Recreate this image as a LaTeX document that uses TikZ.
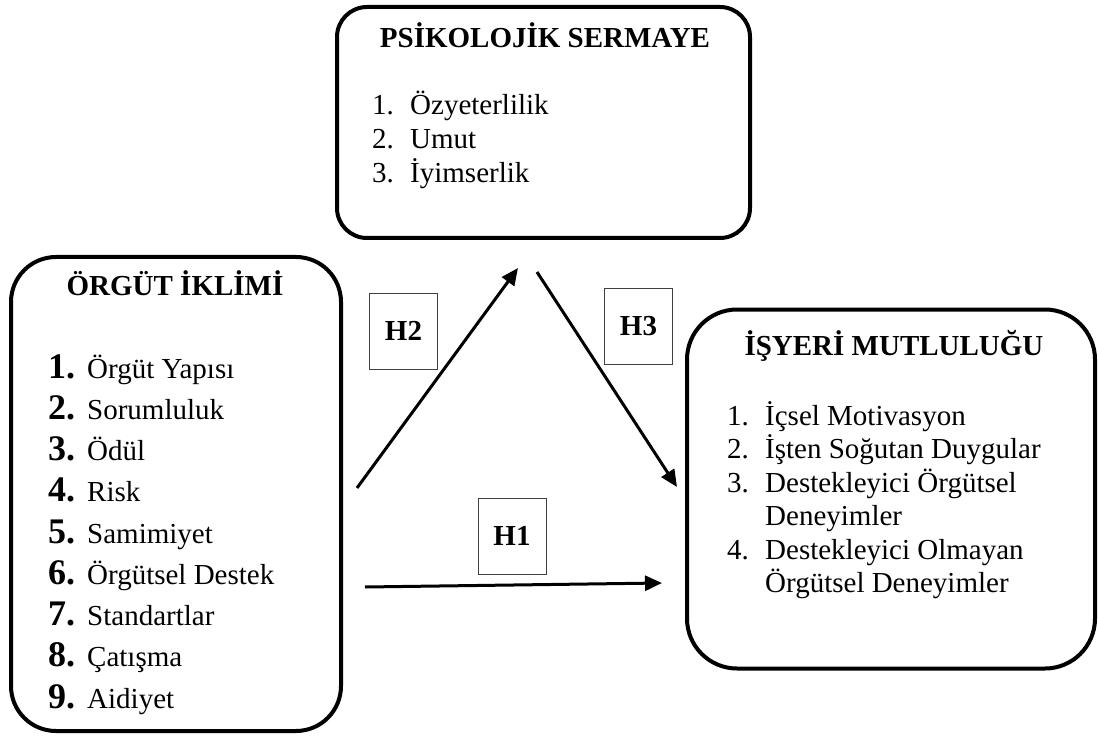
\documentclass[tikz,border=0pt]{standalone}
\usepackage{fontspec}
\setmainfont{Liberation Serif}
\usetikzlibrary{arrows.meta}

\begin{document}
\begin{tikzpicture}[x=1pt,y=1pt]
			\tikzstyle{every node}+=[inner sep=0pt]
			\tikzstyle{bigbox}=[draw=black, line width=4pt]
			\tikzstyle{hbox}=[draw=black!75, line width=1pt, minimum width=68pt, minimum height=76pt, font=\fontsize{29}{34}\selectfont\bfseries]
			\tikzstyle{title}=[anchor=base, font=\fontsize{29}{34}\selectfont\bfseries]
			\tikzstyle{item}=[anchor=base west, font=\fontsize{29}{34}\selectfont]
			\tikzstyle{bignum}=[anchor=base west, font=\fontsize{36}{40}\selectfont\bfseries]
			\tikzstyle{link}=[line width=3pt, -{Triangle[length=17pt,width=15pt]}]
			\useasboundingbox (0,0) rectangle (1098,-738);
			\node (iklim) [bigbox, rounded corners=45pt, minimum width=330pt, minimum height=474pt] at (176,-494) {};
			\node (sermaye) [bigbox, rounded corners=30pt, minimum width=413pt, minimum height=231pt] at (543.5,-122.5) {};
			\node (mutluluk) [bigbox, rounded corners=50pt, minimum width=408pt, minimum height=359pt] at (891,-489) {};
			\node (iklimtitle) [title] at (175,-295) {ÖRGÜT İKLİMİ};
			\node (ik1n) [bignum] at (48,-378) {1.};
			\node (ik1) [item] at (87,-378) {Örgüt Yapısı};
			\node (ik2n) [bignum] at (48,-419.25) {2.};
			\node (ik2) [item] at (87,-419.25) {Sorumluluk};
			\node (ik3n) [bignum] at (48,-460.5) {3.};
			\node (ik3) [item] at (87,-460.5) {Ödül};
			\node (ik4n) [bignum] at (48,-501.75) {4.};
			\node (ik4) [item] at (87,-501.75) {Risk};
			\node (ik5n) [bignum] at (48,-543) {5.};
			\node (ik5) [item] at (87,-543) {Samimiyet};
			\node (ik6n) [bignum] at (48,-584.25) {6.};
			\node (ik6) [item] at (87,-584.25) {Örgütsel Destek};
			\node (ik7n) [bignum] at (48,-625.5) {7.};
			\node (ik7) [item] at (87,-625.5) {Standartlar};
			\node (ik8n) [bignum] at (48,-666.75) {8.};
			\node (ik8) [item] at (87,-666.75) {Çatışma};
			\node (ik9n) [bignum] at (48,-708) {9.};
			\node (ik9) [item] at (87,-708) {Aidiyet};
			\node (sermayetitle) [title] at (545,-48) {PSİKOLOJİK SERMAYE};
			\node (se1n) [item] at (372,-115) {1.};
			\node (se1) [item] at (410,-115) {Özyeterlilik};
			\node (se2n) [item] at (372,-149) {2.};
			\node (se2) [item] at (410,-149) {Umut};
			\node (se3n) [item] at (372,-183) {3.};
			\node (se3) [item] at (410,-183) {İyimserlik};
			\node (mutluluktitle) [title] at (894,-355) {İŞYERİ MUTLULUĞU};
			\node (mu1n) [item] at (727,-425) {1.};
			\node (mu1) [item] at (765,-425) {İçsel Motivasyon};
			\node (mu2n) [item] at (727,-458.5) {2.};
			\node (mu2) [item] at (765,-458.5) {İşten Soğutan Duygular};
			\node (mu3n) [item] at (727,-492) {3.};
			\node (mu3) [item] at (765,-492) {Destekleyici Örgütsel};
			\node (mu3b) [item] at (765,-525.5) {Deneyimler};
			\node (mu4n) [item] at (727,-559) {4.};
			\node (mu4) [item] at (765,-559) {Destekleyici Olmayan};
			\node (mu4b) [item] at (765,-592.5) {Örgütsel Deneyimler};
			\coordinate (h2s) at (357,-488);
			\coordinate (h2e) at (518,-268);
			\coordinate (h3s) at (537,-272);
			\coordinate (h3e) at (677,-487);
			\coordinate (h1s) at (365,-587);
			\coordinate (h1e) at (662,-583);
			\draw [link] (h2s) -- (h2e);
			\draw [link] (h3s) -- (h3e);
			\draw [link] (h1s) -- (h1e);
			\node (h2) [hbox] at (403.5,-331) {H2};
			\node (h3) [hbox] at (638.5,-326.5) {H3};
			\node (h1) [hbox] at (512,-536) {H1};
		\end{tikzpicture}
\end{document}
